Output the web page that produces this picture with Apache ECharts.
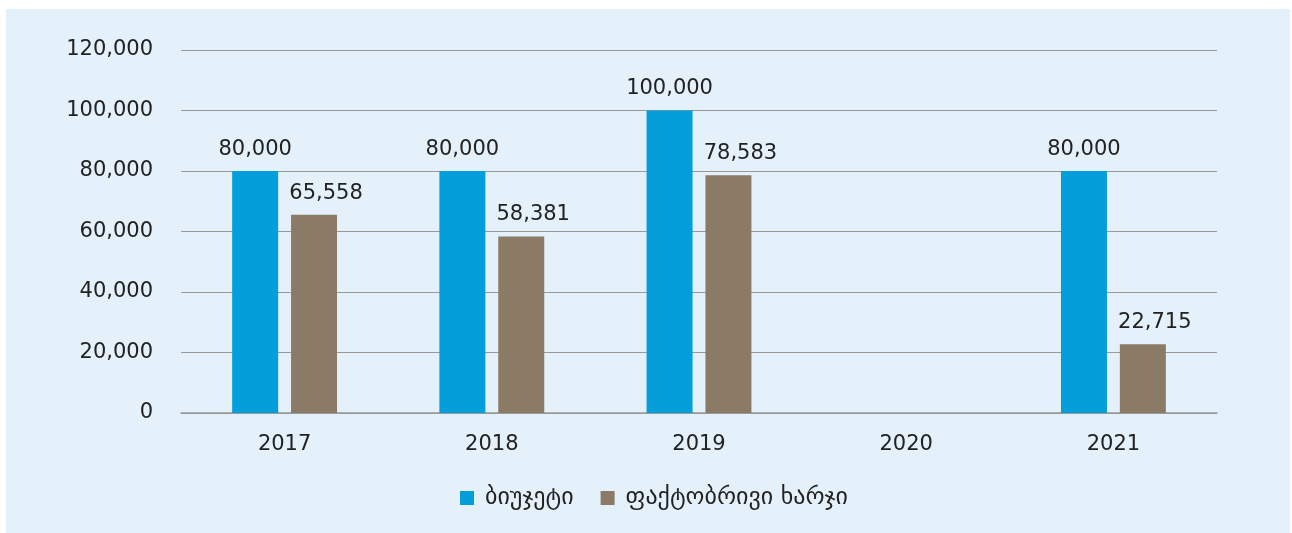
<!DOCTYPE html>
<html><head><meta charset="utf-8">
<script src="https://cdn.jsdelivr.net/npm/echarts@6/dist/echarts.min.js"></script>
<style>
html,body{margin:0;padding:0;background:#fff;}
#panel{position:absolute;left:6px;top:9px;width:1284px;height:524px;background:#e4f1fa;}
#c{position:absolute;left:0;top:0;width:1292px;height:533px;}
</style></head>
<body><div id="panel"></div><div id="c"></div>
<script>
const categories = ['2017','2018','2019','2020','2021'];
const budget = [80000, 80000, 100000, null, 80000];
const actual = [65558, 58381, 78583, null, 22715];
const seriesNames = ['ბიუჯეტი', 'ფაქტობრივი ხარჯი'];

const chart = echarts.init(document.getElementById('c'), null, {renderer:'canvas'});
const font = 'DejaVu Sans';
const fmt = v => v.toLocaleString('en-US');
const labelCfg = {show:true, position:'top', distance:11, color:'#222', fontFamily:font, fontSize:21,
  formatter: p => fmt(p.value)};
chart.setOption({
  backgroundColor:'transparent',
  textStyle:{fontFamily:font},
  grid:{left:181, right:75, top:50, bottom:120, containLabel:false},
  legend:{top:481, left:455, itemWidth:14, itemHeight:14, itemGap:27, icon:'rect',
    textStyle:{fontFamily:font, fontSize:24, color:'#222', padding:[0,0,0,6]}, data:seriesNames},
  xAxis:{type:'category', data:categories,
    axisLine:{lineStyle:{color:'#999', width:1.5}}, axisTick:{show:false},
    axisLabel:{color:'#222', fontFamily:font, fontSize:21, margin:21}},
  yAxis:{type:'value', min:0, max:120000, interval:20000,
    axisLine:{show:false}, axisTick:{show:false},
    splitLine:{lineStyle:{color:'#999', width:1.2}},
    axisLabel:{color:'#222', fontFamily:font, fontSize:21, margin:28, formatter:v=>fmt(v)}},
  series:[
    {name:seriesNames[0], type:'bar', data:budget, barWidth:46, barGap:'28%',
     itemStyle:{color:'#049edb'}, label:labelCfg},
    {name:seriesNames[1], type:'bar', data:actual, barWidth:46,
     itemStyle:{color:'#8a7a66'}, label:Object.assign({}, labelCfg, {offset:[12,0]})}
  ]
});
</script></body></html>
